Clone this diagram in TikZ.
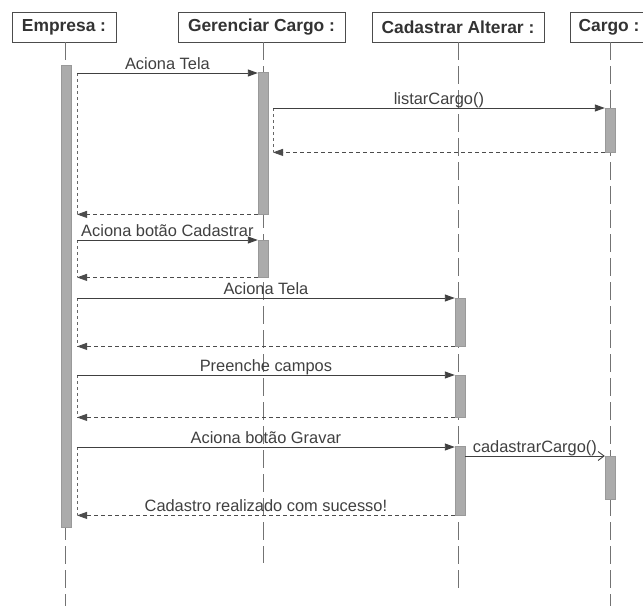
\documentclass[tikz,border=0pt]{standalone}
\usepackage{fontspec}
\setmainfont{Liberation Sans}
\usetikzlibrary{arrows.meta}
\begin{document}
\begin{tikzpicture}[x=1pt,y=-1pt,
  head/.style={draw=black!70, line width=0.9pt, fill=white, minimum height=30pt, inner sep=0pt,
    font=\fontsize{17.4}{19}\selectfont\bfseries, text=black!80},
  life/.style={draw=black!55, line width=0.8pt, dash pattern=on 18pt off 6pt},
  bar/.style={fill=black!33, draw=black!40, line width=0.4pt, minimum width=10pt, inner sep=0pt, anchor=north},
  msg/.style={draw=black!75, line width=0.9pt, -{Triangle[length=10pt,width=7pt]}},
  msgopen/.style={draw=black!75, line width=0.9pt, -{Straight Barb[length=6pt,width=9pt]}},
  ret/.style={draw=black!70, line width=0.8pt, dash pattern=on 4pt off 3pt, -{Triangle[length=10pt,width=7pt]}},
  focus/.style={draw=black!60, line width=0.7pt, dash pattern=on 3pt off 3pt},
  lbl/.style={font=\fontsize{16.4}{18}\selectfont, text=black!75, inner sep=0pt, anchor=base, yshift=3.5pt}
]
\useasboundingbox (0,0) rectangle (643,606);
\fill[white] (0,0) rectangle (643,606);

% heads
\node[head, minimum width=104pt] (emp) at (64,27) {Empresa :};
\node[head, minimum width=167pt] (ger) at (261.5,27) {Gerenciar Cargo :};
\node[head, minimum width=172pt] (cad) at (458,27) {Cadastrar Alterar :};
\node[head, minimum width=78pt] (car) at (609,27) {Cargo :};

% lifeline ends
\coordinate (empEnd) at (65,606);
\coordinate (gerEnd) at (263,563);
\coordinate (cadEnd) at (458,588);
\coordinate (carEnd) at (610,606);
\draw[life] (emp.south -| empEnd) -- (empEnd);
\draw[life] (ger.south -| gerEnd) -- (gerEnd);
\draw[life] (cad.south -| cadEnd) -- (cadEnd);
\draw[life] (car.south -| carEnd) -- (carEnd);

% activation bars
\node[bar, minimum height=462pt] (e1) at (66,65) {};
\node[bar, minimum height=142pt] (g1) at (263,72) {};
\node[bar, minimum height=44pt] (c1) at (610,108) {};
\node[bar, minimum height=37pt] (g2) at (263,240) {};
\node[bar, minimum height=48pt] (a1) at (460,298) {};
\node[bar, minimum height=42pt] (a2) at (460,375) {};
\node[bar, minimum height=69pt] (a3) at (460,446) {};
\node[bar, minimum height=43pt] (c2) at (610,456) {};

% message start points
\coordinate (s1) at (77,73);
\coordinate (s2) at (273,108);
\coordinate (s3) at (77,240);
\coordinate (s4) at (77,298);
\coordinate (s5) at (77,375);
\coordinate (s6) at (77,447);
\coordinate (s7) at (465,456);

% focus dashed verticals
\draw[focus] (s1) -- (s1 |- g1.south);
\draw[focus] (s2) -- (s2 |- c1.south);
\draw[focus] (s3) -- (s3 |- g2.south);
\draw[focus] (s4) -- (s4 |- a1.south);
\draw[focus] (s5) -- (s5 |- a2.south);
\draw[focus] (s6) -- (s6 |- a3.south);

% messages
\draw[msg] (s1) -- node[lbl] (l1) {Aciona Tela} (s1 -| g1.west);
\draw[msg] (s2) -- node[lbl] (l2) {listarCargo()} (s2 -| c1.west);
\draw[ret] (c1.south west) -- (c1.south west -| s2);
\draw[ret] (g1.south west) -- (g1.south west -| s1);
\draw[msg] (s3) -- node[lbl] (l3) {Aciona botão Cadastrar} (s3 -| g2.west);
\draw[ret] (g2.south west) -- (g2.south west -| s3);
\draw[msg] (s4) -- node[lbl] (l4) {Aciona Tela} (s4 -| a1.west);
\draw[ret] (a1.south west) -- (a1.south west -| s4);
\draw[msg] (s5) -- node[lbl] (l5) {Preenche campos} (s5 -| a2.west);
\draw[ret] (a2.south west) -- (a2.south west -| s5);
\draw[msg] (s6) -- node[lbl] (l6) {Aciona botão Gravar} (s6 -| a3.west);
\draw[msgopen] (s7) -- node[lbl] (l7) {cadastrarCargo()} (s7 -| c2.west);
\draw[ret] (a3.south west) -- node[lbl] (l8) {Cadastro realizado com sucesso!} (a3.south west -| s6);
\end{tikzpicture}
\end{document}
